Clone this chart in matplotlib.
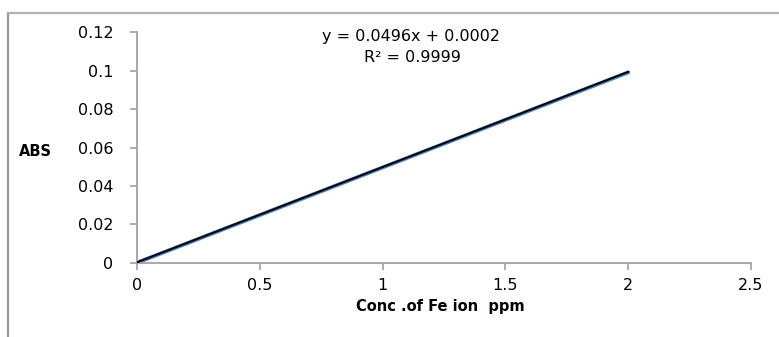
import numpy as np
import matplotlib.pyplot as plt
from matplotlib.lines import Line2D

# standard curve data
conc = [0, 0.5, 1.0, 1.5, 2.0]
absorbance = [0.0, 0.0248, 0.0496, 0.0744, 0.0991]
slope = 0.0496
intercept = 0.0002
r2 = 0.9999

xticks = [0, 0.5, 1, 1.5, 2, 2.5]
yticks = [0, 0.02, 0.04, 0.06, 0.08, 0.1, 0.12]
xtick_labels = ['0', '0.5', '1', '1.5', '2', '2.5']
ytick_labels = ['0', '0.02', '0.04', '0.06', '0.08', '0.1', '0.12']

plt.rcParams['font.family'] = ['DejaVu Sans']

W, H = 779, 337
fig = plt.figure(figsize=(W / 100, H / 100), dpi=100)
ax = fig.add_axes([137 / W, 1 - 262.7 / H, (751 - 137) / W, (262.7 - 32.3) / H])

ax.plot(conc, absorbance, color='#4f81bd', lw=2.8, solid_capstyle='round', zorder=2)
xfit = np.array([conc[0], conc[-1]])
ax.plot(xfit, slope * xfit + intercept, color='black', lw=1.4, zorder=3)

ax.set_xlim(0, 2.5)
ax.set_ylim(0, 0.12)
ax.set_xticks(xticks)
ax.set_xticklabels(xtick_labels)
ax.set_yticks(yticks)
ax.set_yticklabels(ytick_labels)

axis_col = '#a0a0a0'
for s in ['top', 'right']:
    ax.spines[s].set_visible(False)
for s in ['left', 'bottom']:
    ax.spines[s].set_color(axis_col)
    ax.spines[s].set_linewidth(1.3)
ax.tick_params(axis='both', colors=axis_col, length=5, width=1.2,
               labelcolor='black', labelsize=11.5)
ax.tick_params(axis='y', pad=12)
ax.tick_params(axis='x', pad=6)

fig.text(411 / W, 1 - 37 / H, 'y = 0.0496x + 0.0002', ha='center', va='center', fontsize=11.5)
fig.text(412 / W, 1 - 57 / H, 'R² = 0.9999', ha='center', va='center', fontsize=11.5)

fig.text(35 / W, 1 - 151 / H, 'ABS', ha='center', va='center', fontsize=10.5, fontweight='bold')
fig.text(440 / W, 1 - 306 / H, 'Conc .of Fe ion  ppm', ha='center', va='center',
         fontsize=10.5, fontweight='bold')

# chart area border (only left and top edges visible in the crop)
fig.add_artist(Line2D([7.5 / W, 7.5 / W], [0, 1 - 13 / H], transform=fig.transFigure,
                      color='#999999', lw=1.6))
fig.add_artist(Line2D([7.5 / W, 1], [1 - 13 / H, 1 - 13 / H], transform=fig.transFigure,
                      color='#b3b3b3', lw=1.6))

fig.savefig('out.png', dpi=100)
